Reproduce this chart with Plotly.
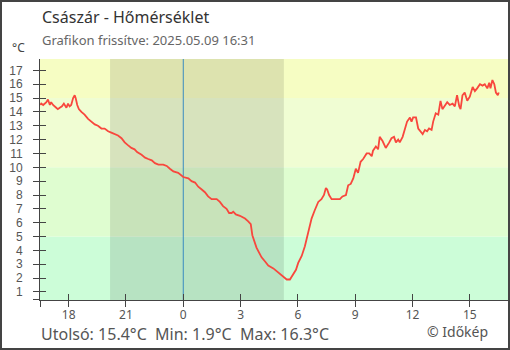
import plotly.graph_objects as go

# Temperature readings, Császár, 2025-05-08 16:31 .. 2025-05-09 16:31
times = [
    "2025-05-08 16:31", "2025-05-08 16:34", "2025-05-08 16:40", "2025-05-08 16:45",
    "2025-05-08 16:50", "2025-05-08 16:55", "2025-05-08 17:01", "2025-05-08 17:05",
    "2025-05-08 17:11", "2025-05-08 17:21", "2025-05-08 17:26", "2025-05-08 17:32",
    "2025-05-08 17:39", "2025-05-08 17:45", "2025-05-08 17:53", "2025-05-08 17:58",
    "2025-05-08 18:03", "2025-05-08 18:08", "2025-05-08 18:14", "2025-05-08 18:19",
    "2025-05-08 18:22", "2025-05-08 18:27", "2025-05-08 18:32", "2025-05-08 18:40",
    "2025-05-08 18:50", "2025-05-08 19:01", "2025-05-08 19:11", "2025-05-08 19:22",
    "2025-05-08 19:32", "2025-05-08 19:43", "2025-05-08 19:53", "2025-05-08 20:04",
    "2025-05-08 20:14", "2025-05-08 20:25", "2025-05-08 20:35", "2025-05-08 20:46",
    "2025-05-08 20:56", "2025-05-08 21:06", "2025-05-08 21:17", "2025-05-08 21:27",
    "2025-05-08 21:35", "2025-05-08 21:49", "2025-05-08 22:00", "2025-05-08 22:10",
    "2025-05-08 22:21", "2025-05-08 22:31", "2025-05-08 22:42", "2025-05-08 22:57",
    "2025-05-08 23:08", "2025-05-08 23:18", "2025-05-08 23:29", "2025-05-08 23:44",
    "2025-05-09 00:00", "2025-05-09 00:16", "2025-05-09 00:26", "2025-05-09 00:37",
    "2025-05-09 00:47", "2025-05-09 00:58", "2025-05-09 01:08", "2025-05-09 01:18",
    "2025-05-09 01:29", "2025-05-09 01:45", "2025-05-09 01:55", "2025-05-09 02:05",
    "2025-05-09 02:16", "2025-05-09 02:24", "2025-05-09 02:32", "2025-05-09 02:37",
    "2025-05-09 02:45", "2025-05-09 02:58", "2025-05-09 03:14", "2025-05-09 03:24",
    "2025-05-09 03:32", "2025-05-09 03:37", "2025-05-09 03:43", "2025-05-09 03:50",
    "2025-05-09 03:59", "2025-05-09 04:06", "2025-05-09 04:17", "2025-05-09 04:27",
    "2025-05-09 04:43", "2025-05-09 04:53", "2025-05-09 05:04", "2025-05-09 05:14",
    "2025-05-09 05:25", "2025-05-09 05:35", "2025-05-09 05:43", "2025-05-09 05:54",
    "2025-05-09 06:01", "2025-05-09 06:12", "2025-05-09 06:22", "2025-05-09 06:29",
    "2025-05-09 06:35", "2025-05-09 06:43", "2025-05-09 06:53", "2025-05-09 07:04",
    "2025-05-09 07:14", "2025-05-09 07:22", "2025-05-09 07:28", "2025-05-09 07:32",
    "2025-05-09 07:38", "2025-05-09 07:46", "2025-05-09 08:02", "2025-05-09 08:12",
    "2025-05-09 08:20", "2025-05-09 08:31", "2025-05-09 08:38", "2025-05-09 08:46",
    "2025-05-09 08:54", "2025-05-09 09:02", "2025-05-09 09:09", "2025-05-09 09:17",
    "2025-05-09 09:25", "2025-05-09 09:36", "2025-05-09 09:44", "2025-05-09 09:52",
    "2025-05-09 09:56", "2025-05-09 10:05", "2025-05-09 10:12", "2025-05-09 10:17",
    "2025-05-09 10:26", "2025-05-09 10:36", "2025-05-09 10:47", "2025-05-09 10:54",
    "2025-05-09 11:02", "2025-05-09 11:08", "2025-05-09 11:15", "2025-05-09 11:20",
    "2025-05-09 11:29", "2025-05-09 11:36", "2025-05-09 11:43", "2025-05-09 11:52",
    "2025-05-09 11:57", "2025-05-09 12:02", "2025-05-09 12:11", "2025-05-09 12:18",
    "2025-05-09 12:25", "2025-05-09 12:32", "2025-05-09 12:39", "2025-05-09 12:46",
    "2025-05-09 12:52", "2025-05-09 13:00", "2025-05-09 13:05", "2025-05-09 13:13",
    "2025-05-09 13:21", "2025-05-09 13:28", "2025-05-09 13:34", "2025-05-09 13:41",
    "2025-05-09 13:49", "2025-05-09 13:57", "2025-05-09 14:06", "2025-05-09 14:13",
    "2025-05-09 14:20", "2025-05-09 14:27", "2025-05-09 14:31", "2025-05-09 14:37",
    "2025-05-09 14:44", "2025-05-09 14:52", "2025-05-09 15:00", "2025-05-09 15:09",
    "2025-05-09 15:16", "2025-05-09 15:23", "2025-05-09 15:32", "2025-05-09 15:40",
    "2025-05-09 15:47", "2025-05-09 15:55", "2025-05-09 16:01", "2025-05-09 16:05",
    "2025-05-09 16:11", "2025-05-09 16:17", "2025-05-09 16:22", "2025-05-09 16:28",
    "2025-05-09 16:31",
]
temps = [
    14.5, 14.6, 14.5, 14.6,
    14.7, 14.9, 14.5, 14.7,
    14.5, 14.3, 14.2, 14.3,
    14.4, 14.6, 14.3, 14.6,
    14.4, 14.5, 15.0, 15.2,
    15.0, 14.5, 14.2, 14.0,
    13.8, 13.5, 13.3, 13.1,
    13.0, 12.8, 12.8, 12.6,
    12.5, 12.4, 12.3, 12.1,
    11.8, 11.6, 11.4, 11.3,
    11.1, 10.9, 10.7, 10.6,
    10.5, 10.3, 10.2, 10.2,
    10.1, 9.9, 9.7, 9.6,
    9.3, 9.2, 9.0, 8.9,
    8.6, 8.4, 8.2, 7.9,
    7.7, 7.7, 7.5, 7.2,
    7.0, 6.7, 6.7, 6.8,
    6.6, 6.5, 6.3, 6.1,
    5.9, 5.1, 4.7, 4.2,
    3.8, 3.5, 3.2, 2.9,
    2.7, 2.5, 2.3, 2.1,
    1.9, 1.9, 2.2, 2.6,
    3.1, 3.6, 4.3, 4.9,
    5.6, 6.3, 6.9, 7.5,
    7.7, 8.0, 8.5, 8.4,
    8.0, 7.7, 7.7, 7.7,
    7.9, 8.0, 8.7, 8.8,
    9.2, 9.9, 9.6, 10.4,
    10.6, 11.0, 11.0, 10.8,
    11.2, 11.5, 11.3, 12.2,
    11.9, 11.4, 11.8, 12.1,
    12.2, 11.8, 12.0, 11.8,
    12.2, 12.8, 13.3, 13.6,
    13.3, 13.6, 13.6, 12.8,
    12.6, 12.4, 12.7, 12.6,
    12.8, 12.7, 13.3, 13.9,
    13.8, 14.8, 14.2, 14.4,
    14.7, 14.5, 14.6, 14.4,
    15.2, 14.4, 14.2, 15.2,
    15.4, 14.8, 15.1, 15.8,
    15.5, 15.7, 16.0, 15.9,
    16.0, 15.7, 16.1, 15.7,
    16.3, 16.0, 15.4, 15.2,
    15.4,
]

# Axis ticks
y_ticks = list(range(1, 18))
x_tick_times = [
    "2025-05-08 18:00", "2025-05-08 21:00", "2025-05-09 00:00", "2025-05-09 03:00",
    "2025-05-09 06:00", "2025-05-09 09:00", "2025-05-09 12:00", "2025-05-09 15:00",
]
x_tick_labels = ["18", "21", "0", "3", "6", "9", "12", "15"]

x_range = ["2025-05-08 16:30", "2025-05-09 17:00"]
y_range = [0.42, 17.82]

# Temperature background bands
band_edges = [y_range[0], 5, 10, 15, y_range[1]]
band_colors = ["#ccfdd8", "#dffdd0", "#f0fdd3", "#f6fdc3"]

# Darkness between sunset and sunrise
sunset = "2025-05-08 20:10"
sunrise = "2025-05-09 05:16"
midnight = "2025-05-09 00:00"

FONT = "Noto Sans"
TICK_FONT = "Liberation Sans"
AXIS = "#444444"
TEXT = "#555555"

fig = go.Figure()
fig.add_trace(go.Scatter(
    x=times, y=temps, mode="lines",
    line=dict(color="#f8473d", width=1.8),
    showlegend=False, hoverinfo="skip",
))
# empty trace that carries the mirrored (inner) tick axes
fig.add_trace(go.Scatter(x=[], y=[], xaxis="x2", yaxis="y2",
                         showlegend=False, hoverinfo="skip"))

shapes = []
for lo, hi, col in zip(band_edges[:-1], band_edges[1:], band_colors):
    shapes.append(dict(type="rect", xref="paper", yref="y", x0=0, x1=1,
                       y0=lo, y1=hi, fillcolor=col, line_width=0, layer="below"))
shapes.append(dict(type="rect", xref="x", yref="paper", x0=sunset, x1=sunrise,
                   y0=0, y1=1, fillcolor="rgba(0,0,0,0.1)", line_width=0, layer="below"))
shapes.append(dict(type="line", xref="x", yref="paper", x0=midnight, x1=midnight,
                   y0=0, y1=1, line=dict(color="#3a8cc0", width=1), layer="below"))
# outer frame around the whole image
shapes.append(dict(type="rect", xref="paper", yref="paper",
                   x0=-39 / 468, x1=469 / 468, y0=-49 / 241, y1=1 + 58 / 241,
                   line=dict(color=AXIS, width=2), fillcolor="rgba(0,0,0,0)"))

last_t, min_t, max_t = temps[-1], min(temps), max(temps)
stats = f"Utolsó: {last_t:.1f}°C  Min: {min_t:.1f}°C  Max: {max_t:.1f}°C"

annotations = [
    dict(text="Császár - Hőmérséklet", x=0, y=1.175, xref="paper", yref="paper",
         xanchor="left", yanchor="middle", showarrow=False,
         font=dict(family=FONT, size=16, color="#333333")),
    dict(text="Grafikon frissítve: 2025.05.09 16:31", x=0, y=1.078, xref="paper",
         yref="paper", xanchor="left", yanchor="middle", showarrow=False,
         font=dict(family=FONT, size=13, color="#666666")),
    dict(text="°C", x=-0.047, y=1.046, xref="paper", yref="paper",
         xanchor="center", yanchor="middle", showarrow=False,
         font=dict(family=FONT, size=12, color="#444444")),
    dict(text=stats, x=-0.002, y=-0.141, xref="paper", yref="paper",
         xanchor="left", yanchor="middle", showarrow=False,
         font=dict(family=FONT, size=16, color=TEXT)),
    dict(text="© Időkép", x=0.822, y=-0.131, xref="paper", yref="paper",
         xanchor="left", yanchor="middle", showarrow=False,
         font=dict(family=FONT, size=14, color=TEXT)),
]

x_tickvals = [x_range[0]] + x_tick_times
x_ticktext = [""] + x_tick_labels
y_tickvals = [y_range[0] + 0.001] + y_ticks
y_ticktext = [""] + [str(v) for v in y_ticks]

common_x = dict(type="date", range=x_range, tickmode="array",
                tickvals=x_tickvals, ticklen=6, tickwidth=1, tickcolor=AXIS,
                showgrid=False, zeroline=False, fixedrange=True)
common_y = dict(range=y_range, tickmode="array", tickvals=y_tickvals,
                ticklen=6, tickwidth=1, tickcolor=AXIS,
                showgrid=False, zeroline=False, fixedrange=True)

fig.update_layout(
    width=510, height=350,
    margin=dict(l=40, r=2, t=59, b=50),
    paper_bgcolor="white", plot_bgcolor="white",
    font=dict(family=FONT, size=12, color=TEXT),
    shapes=shapes, annotations=annotations,
    xaxis=dict(**common_x, ticktext=x_ticktext, ticks="outside",
               showline=True, linecolor=AXIS, linewidth=1,
               ticklabelstandoff=-2,
               tickfont=dict(family=FONT, size=12, color=TEXT)),
    yaxis=dict(**common_y, ticktext=y_ticktext, ticks="outside",
               showline=True, linecolor=AXIS, linewidth=1,
               ticklabelstandoff=8,
               tickfont=dict(family=TICK_FONT, size=12, color=TEXT)),
    xaxis2=dict(**common_x, overlaying="x", anchor="y", side="bottom",
                ticks="inside", showticklabels=False, showline=False),
    yaxis2=dict(**common_y, overlaying="y", anchor="x", side="left",
                ticks="inside", showticklabels=False, showline=False),
)

fig.write_html("out.html")
